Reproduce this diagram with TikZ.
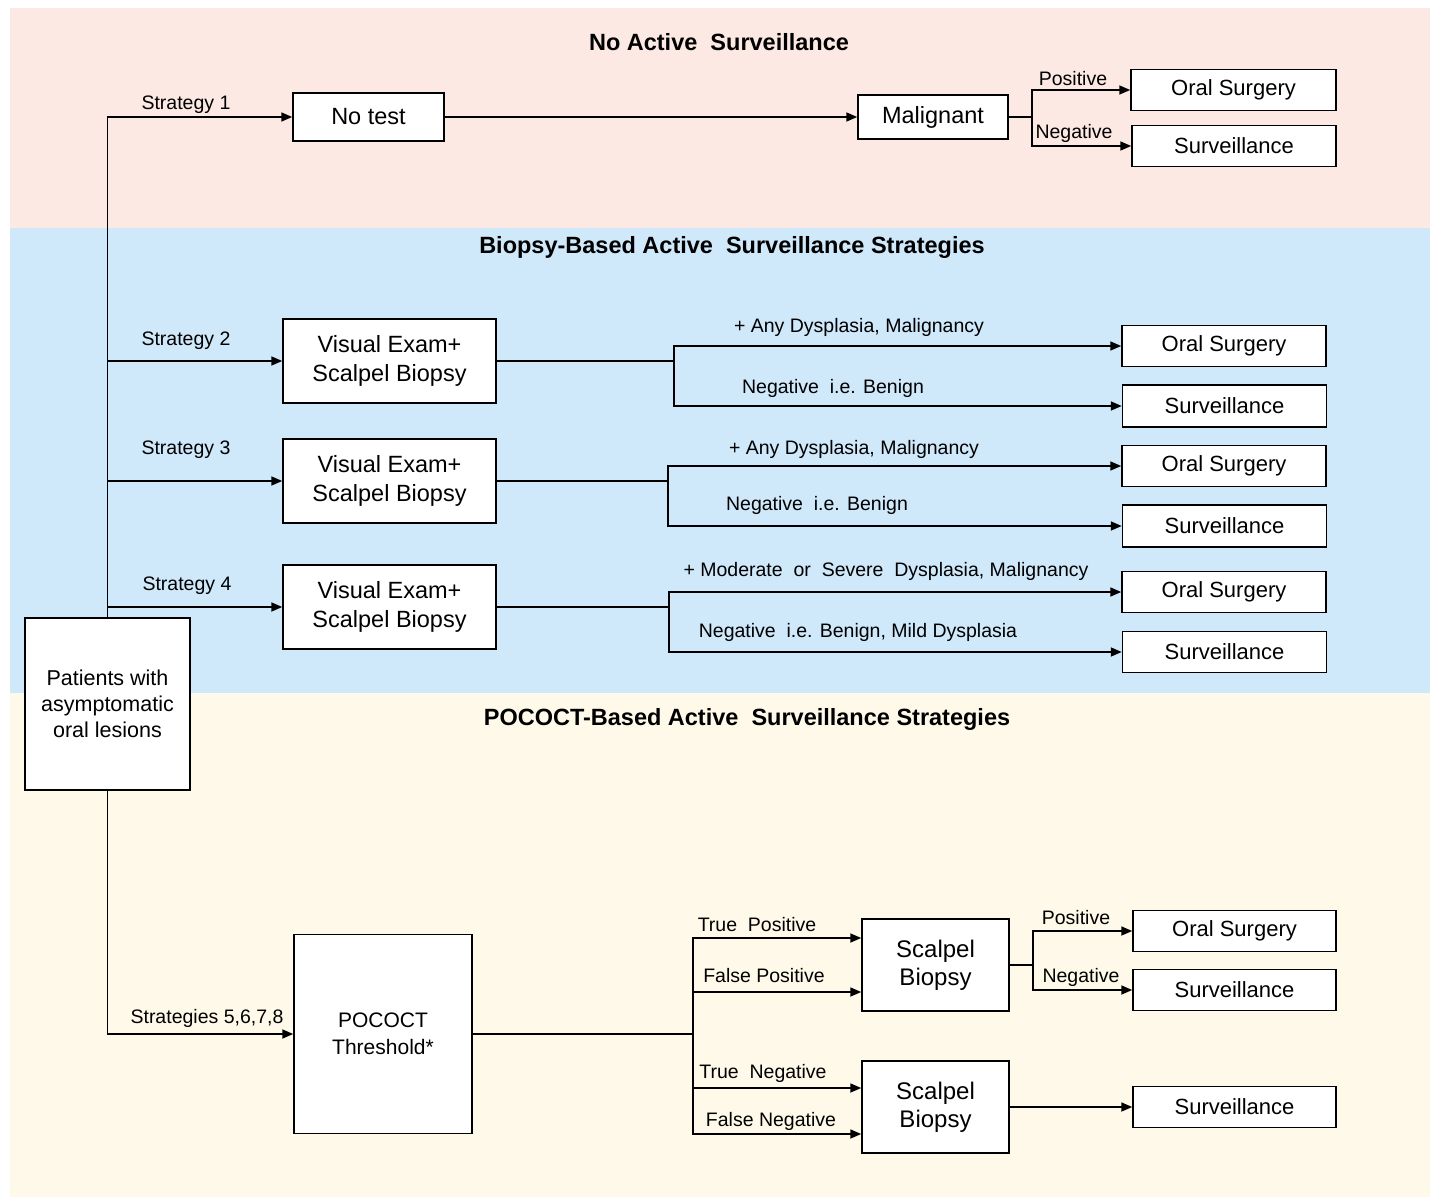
\documentclass[tikz,border=0pt]{standalone}
\usepackage{fontspec}
\setmainfont{Liberation Sans}
\usetikzlibrary{arrows.meta}
\definecolor{bgpink}{HTML}{FCE9E3}
\definecolor{bgblue}{HTML}{CFE8FA}
\definecolor{bgyellow}{HTML}{FEF9E9}
\begin{document}
\begin{tikzpicture}[x=1pt,y=-1pt,
  box/.style={draw=black,line width=1.5pt,fill=white,inner sep=0pt,align=center,font=\fontsize{23.5}{29}\selectfont},
  obox/.style={box,minimum width=204pt,minimum height=41pt,font=\fontsize{22}{26}\selectfont},
  vbox/.style={box,minimum width=213pt,minimum height=84pt},
  sbox/.style={box,minimum width=147pt,minimum height=92pt,font=\fontsize{24}{28}\selectfont},
  lbl/.style={inner sep=0pt,font=\fontsize{19.5}{22}\selectfont},
  ttl/.style={inner sep=0pt,font=\fontsize{23.5}{27}\selectfont\bfseries},
  conn/.style={line width=1.7pt},
  arr/.style={conn,-{Triangle[length=11pt,width=9pt]}}]
\useasboundingbox (0,0) rectangle (1432,1198);
% backgrounds
\fill[bgpink] (10,8) rectangle (1430,228);
\fill[bgblue] (10,228) rectangle (1430,693);
\fill[bgyellow] (10,693) rectangle (1430,1197);
% titles
\node[ttl] (t1) at (719,42) {No Active\ \ Surveillance};
\node[ttl] (t2) at (732,247) {Biopsy-Based Active\ \ Surveillance Strategies};
\node[ttl] (t3) at (747,719) {POCOCT-Based Active\ \ Surveillance Strategies};
% patient box
\node[box,minimum width=165pt,minimum height=172pt,font=\fontsize{21.5}{26}\selectfont] (pat) at (107.5,704) {Patients with\\asymptomatic\\oral lesions};
% strategy 1
\node[box,minimum width=151pt,minimum height=48pt] (notest) at (368.5,117) {No test};
\node[box,minimum width=150pt,minimum height=44pt] (malig) at (933,117) {Malignant};
\node[obox,minimum width=205pt] (os1) at (1233.5,90) {Oral Surgery};
\node[obox] (sv1) at (1234,146) {Surveillance};
\coordinate (j1) at (1032,117);
\draw[arr] (pat.north) |- (notest);
\draw[arr] (notest) -- (malig);
\draw[conn] (malig) -- (j1);
\draw[arr] (j1) |- (os1);
\draw[arr] (j1) |- (sv1);
\node[lbl] (l1) at (186,105) {Strategy 1};
\node[lbl] (lp1) at (1073,79) {Positive};
\node[lbl] (ln1) at (1074,133) {Negative};
% strategy 2
\node[vbox] (v2) at (389.5,361) {Visual Exam+\\Scalpel Biopsy};
\node[obox] (os2) at (1224,346) {Oral Surgery};
\node[obox,minimum height=42pt] (sv2) at (1224.5,406) {Surveillance};
\coordinate (j2) at (674,361);
\draw[arr] (pat.north) |- (v2);
\draw[conn] (v2) -- (j2);
\draw[arr] (j2) |- (os2);
\draw[arr] (j2) |- (sv2);
\node[lbl] (l2) at (186,341) {Strategy 2};
\node[lbl] (l2a) at (859,327) {+ Any Dysplasia, Malignancy};
\node[lbl] (l2b) at (833,388) {Negative\ \ i.e. Benign};
% strategy 3
\node[vbox] (v3) at (389.5,481) {Visual Exam+\\Scalpel Biopsy};
\node[obox] (os3) at (1224,466) {Oral Surgery};
\node[obox,minimum height=42pt] (sv3) at (1224.5,526) {Surveillance};
\coordinate (j3) at (668,481);
\draw[arr] (pat.north) |- (v3);
\draw[conn] (v3) -- (j3);
\draw[arr] (j3) |- (os3);
\draw[arr] (j3) |- (sv3);
\node[lbl] (l3) at (186,450) {Strategy 3};
\node[lbl] (l3a) at (854,449) {+ Any Dysplasia, Malignancy};
\node[lbl] (l3b) at (817,505) {Negative\ \ i.e. Benign};
% strategy 4
\node[vbox] (v4) at (389.5,607) {Visual Exam+\\Scalpel Biopsy};
\node[obox] (os4) at (1224,592) {Oral Surgery};
\node[obox] (sv4) at (1224.5,652) {Surveillance};
\coordinate (j4) at (669,607);
\draw[arr] (pat.north) |- (v4);
\draw[conn] (v4) -- (j4);
\draw[arr] (j4) |- (os4);
\draw[arr] (j4) |- (sv4);
\node[lbl] (l4) at (187,586) {Strategy 4};
\node[lbl] (l4a) at (886,571) {+ Moderate\ \ or\ \ Severe\ \ Dysplasia, Malignancy};
\node[lbl] (l4b) at (858,632) {Negative\ \ i.e. Benign, Mild Dysplasia};
% POCOCT
\node[box,minimum width=178pt,minimum height=199pt,font=\fontsize{21}{27}\selectfont] (poc) at (383,1034) {POCOCT\\Threshold*};
\draw[arr] (pat.south) |- (poc);
\node[lbl] (l5) at (207,1018) {Strategies 5,6,7,8};
\coordinate (j5) at (693,1034);
\draw[conn] (poc) -- (j5);
\node[sbox] (sb1) at (935.5,965) {Scalpel\\Biopsy};
\node[sbox] (sb2) at (935.5,1107) {Scalpel\\Biopsy};
\draw[arr] (j5) |- ([yshift=27pt]sb1.west);
\draw[arr] (j5) |- ([yshift=-27pt]sb1.west);
\draw[arr] (j5) |- ([yshift=19pt]sb2.west);
\draw[arr] (j5) |- ([yshift=-27pt]sb2.west);
\node[lbl] (tp) at (757,925) {True\ \ Positive};
\node[lbl] (fp) at (764,976) {False Positive};
\node[lbl] (tn) at (763,1073) {True\ \ Negative};
\node[lbl] (fn) at (771,1121) {False Negative};
\node[obox,minimum width=203pt] (os5) at (1234.5,931) {Oral Surgery};
\node[obox,minimum width=203pt] (sv5) at (1234.5,990) {Surveillance};
\node[obox,minimum width=203pt] (sv6) at (1234.5,1107) {Surveillance};
\coordinate (j6) at (1033,965);
\draw[conn] (sb1) -- (j6);
\draw[arr] (j6) |- (os5);
\draw[arr] (j6) |- (sv5);
\draw[arr] (sb2) -- (sv6);
\node[lbl] (lp5) at (1076,918) {Positive};
\node[lbl] (ln5) at (1081,977) {Negative};
\end{tikzpicture}
\end{document}
